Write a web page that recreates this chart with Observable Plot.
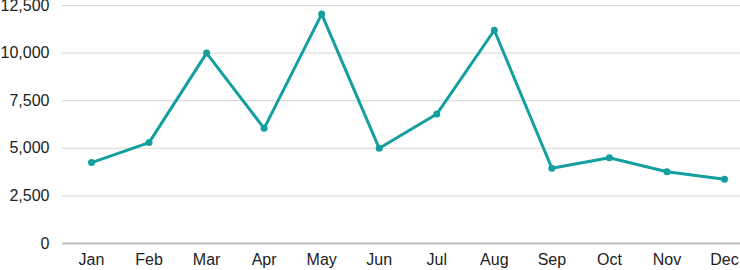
<!DOCTYPE html>
<html>
<head>
<meta charset="utf-8">
<script src="https://cdn.jsdelivr.net/npm/d3@7"></script>
<script src="https://cdn.jsdelivr.net/npm/@observablehq/plot@0.6"></script>
<style>
  html, body { margin: 0; padding: 0; background: #fff; }
  svg { display: block; }
</style>
</head>
<body>
<div id="chart"></div>
<script>
const months = ["Jan","Feb","Mar","Apr","May","Jun","Jul","Aug","Sep","Oct","Nov","Dec"];
const values = [4250, 5300, 10000, 6050, 12050, 5000, 6800, 11200, 3950, 4500, 3770, 3380];
const yTicks = [0, 2500, 5000, 7500, 10000, 12500];

const data = months.map((m, i) => ({month: m, value: values[i]}));
const color = "#149f9f";
const fmt = d3.format(",");

const chart = Plot.plot({
  width: 740,
  height: 270,
  marginTop: 5,
  marginBottom: 27,
  marginLeft: 62,
  marginRight: 0,
  style: {fontFamily: "'Liberation Sans', Arial, sans-serif", fontSize: "16px", color: "#222", overflow: "visible"},
  x: {type: "point", domain: months, padding: 0, round: false, insetLeft: 29, insetRight: 16, label: null},
  y: {domain: [0, 12500], label: null},
  marks: [
    Plot.gridY(yTicks.filter(d => d > 0), {stroke: "#d6d6d6", strokeOpacity: 1, strokeWidth: 1}),
    Plot.ruleY([0], {stroke: "#bdbdbd", strokeWidth: 2}),
    Plot.axisY({ticks: yTicks, tickSize: 0, tickPadding: 13, tickFormat: fmt, fontSize: 16, fill: "#222"}),
    Plot.axisX({tickSize: 0, tickPadding: 10, fontSize: 16, fill: "#222"}),
    Plot.line(data, {x: "month", y: "value", stroke: color, strokeWidth: 3}),
    Plot.dot(data, {x: "month", y: "value", fill: color, r: 3.5})
  ]
});
document.getElementById("chart").appendChild(chart);
</script>
</body>
</html>
